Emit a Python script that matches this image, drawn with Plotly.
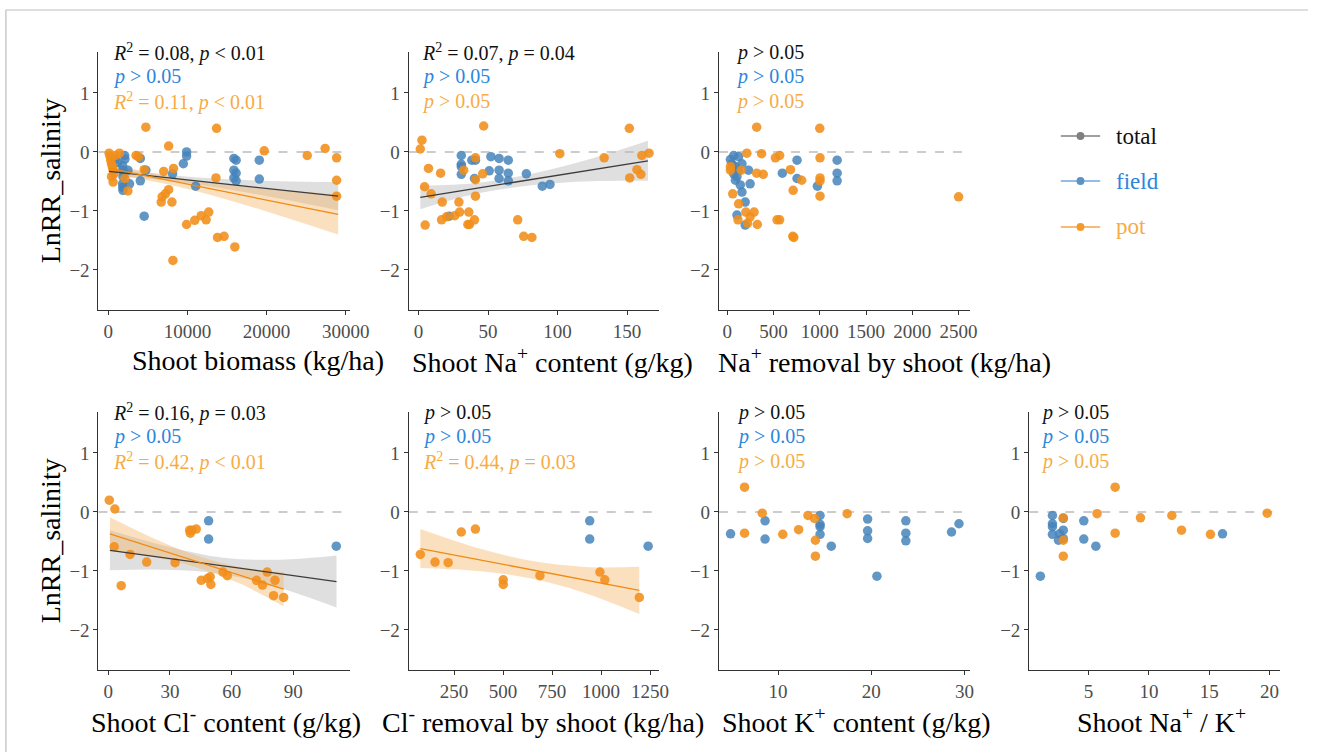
import numpy as np
import plotly.graph_objects as go

W, H = 1328, 752

# ---------------- data ----------------
# Panel 1: Shoot biomass (kg/ha)
p1_field_x = [820, 1200, 2060, 2100, 1800, 1850, 1850, 1800, 1830, 1850, 2470, 2680, 4040, 4040, 4530, 4740,
              8120, 9480, 9890, 9890, 11040, 15870, 16150, 15870, 16150, 15870, 16150, 19080, 19080]
p1_field_y = [-0.13, -0.18, -0.06, -0.12, -0.23, -0.31, -0.42, -0.54, -0.60, -0.65, -0.31, -0.54, -0.11, -0.49,
              -1.09, -0.31, -0.37, -0.20, 0.00, -0.07, -0.58, -0.11, -0.14, -0.31, -0.36, -0.44, -0.49, -0.14, -0.46]
p1_pot_x = [100, 200, 300, 400, 500, 600, 400, 600, 700, 900, 1400, 2470, 2100, 4740, 3500, 3800, 4530, 7000,
            7620, 8240, 6800, 6680, 7210, 7620, 8040, 8160, 9890, 10920, 11740, 12360, 12690, 13600, 13680,
            13800, 14630, 15990, 19700, 25140, 27400, 28850, 28850, 28850]
p1_pot_y = [-0.02, -0.07, -0.14, -0.20, -0.25, -0.31, -0.42, -0.51, -0.37, -0.06, -0.02, -0.66, -0.45, 0.42,
            -0.06, -0.08, -0.30, -0.33, 0.10, -0.28, -0.76, -0.85, -0.71, -0.64, -0.85, -1.84, -1.23, -1.16,
            -1.08, -1.15, -1.02, -0.44, 0.40, -1.45, -1.43, -1.61, 0.02, -0.06, 0.06, -0.10, -0.48, -0.75]

# Panel 2: Shoot Na+ content (g/kg)
p2_field_x = [30.7, 30.7, 30.7, 30.7, 38.3, 40.9, 40.2, 22.0, 52.0, 50.8, 57.9, 57.9, 57.9, 64.5, 64.5, 64.5,
              77.5, 89.0, 94.5]
p2_field_y = [-0.06, -0.21, -0.25, -0.38, -0.14, -0.14, -0.45, -1.09, -0.08, -0.32, -0.11, -0.31, -0.45, -0.14,
              -0.36, -0.49, -0.37, -0.58, -0.55]
p2_pot_x = [1.2, 2.4, 4.3, 4.7, 7.1, 9.0, 15.8, 17.0, 16.5, 20.1, 26.0, 29.0, 29.5, 32.4, 36.1, 35.4, 36.6,
            40.2, 40.9, 40.9, 40.9, 46.8, 46.1, 71.3, 75.6, 81.5, 101.6, 133.5, 151.6, 151.9, 157.1, 159.9,
            160.6, 165.8]
p2_pot_y = [0.05, 0.20, -0.59, -1.24, -0.28, -0.71, -0.36, -0.85, -1.15, -1.10, -1.08, -0.85, -1.02, -0.31,
            -1.02, -1.23, -1.23, -1.15, -0.10, -0.47, -0.75, 0.44, -0.37, -1.15, -1.43, -1.45, -0.03, -0.10,
            0.40, -0.44, -0.30, -0.38, -0.06, -0.02]

# Panel 3: Na+ removal by shoot (kg/ha)
p3_field_x = [35, 71, 124, 53, 89, 71, 106, 89, 160, 124, 142, 160, 195, 106, 195, 230, 248, 596, 755, 755,
              975, 1188, 1188, 1188]
p3_field_y = [-0.13, -0.06, -0.08, -0.20, -0.25, -0.37, -0.42, -0.48, -0.20, -0.31, -0.56, -0.68, -0.85,
              -1.07, -1.24, -0.31, -0.54, -0.36, -0.14, -0.45, -0.58, -0.14, -0.36, -0.49]
p3_pot_x = [35, 35, 60, 124, 117, 152, 213, 202, 248, 220, 291, 326, 319, 390, 319, 372, 521, 567, 539, 567,
            684, 713, 709, 720, 805, 1000, 1003, 1003, 1003, 1003, 2500]
p3_pot_y = [-0.25, -0.31, -0.71, -0.88, -1.15, -0.31, -0.02, -1.02, -1.10, -1.21, -1.02, -1.23, -0.36, -0.38,
            0.42, -0.03, -0.10, -0.06, -1.15, -1.15, -0.30, -0.65, -1.43, -1.45, -0.48, 0.40, -0.10, -0.44,
            -0.49, -0.75, -0.76]

# Panel 4: Shoot Cl- content (g/kg)
p4_field_x = [48.8, 48.8, 110.9]
p4_field_y = [-0.15, -0.46, -0.58]
p4_pot_x = [0.5, 3.2, 2.9, 6.3, 10.6, 18.7, 32.5, 39.6, 39.9, 40.7, 42.8, 45.2, 48.3, 49.6, 49.9, 55.8, 57.9,
            72.1, 75.0, 77.3, 81.1, 80.4, 85.3]
p4_pot_y = [0.20, 0.05, -0.59, -1.25, -0.72, -0.85, -0.86, -0.31, -0.36, -0.31, -0.29, -1.16, -1.13, -1.10,
            -1.23, -1.02, -1.08, -1.16, -1.24, -1.02, -1.16, -1.42, -1.45]

# Panel 5: Cl- removal by shoot (kg/ha)
p5_field_x = [942, 942, 1240]
p5_field_y = [-0.15, -0.46, -0.58]
p5_pot_x = [78, 153, 220, 287, 359, 501, 501, 688, 994, 1019, 1195]
p5_pot_y = [-0.72, -0.85, -0.86, -0.34, -0.29, -1.15, -1.23, -1.08, -1.02, -1.15, -1.45]

# Panel 6: Shoot K+ content (g/kg)
p6_field_x = [4.9, 8.6, 8.6, 14.5, 14.5, 14.5, 14.5, 15.7, 19.6, 19.6, 19.6, 20.6, 23.7, 23.7, 23.7, 28.6, 29.4]
p6_field_y = [-0.37, -0.15, -0.46, -0.06, -0.21, -0.25, -0.38, -0.58, -0.12, -0.32, -0.45, -1.09, -0.15,
              -0.36, -0.49, -0.34, -0.20]
p6_pot_x = [6.4, 6.4, 8.3, 10.5, 12.2, 13.2, 13.9, 14.0, 14.0, 17.4]
p6_pot_y = [0.42, -0.36, -0.02, -0.38, -0.30, -0.06, -0.11, -0.48, -0.75, -0.03]

# Panel 7: Shoot Na+/K+
p7_field_x = [1.0, 2.0, 2.0, 2.0, 2.0, 2.6, 2.5, 2.9, 2.9, 2.9, 4.6, 4.6, 5.6, 16.1]
p7_field_y = [-1.09, -0.06, -0.20, -0.25, -0.38, -0.37, -0.48, -0.11, -0.31, -0.45, -0.15, -0.46, -0.58, -0.37]
p7_pot_x = [2.9, 2.9, 2.9, 5.7, 7.2, 7.2, 9.3, 11.9, 12.7, 15.1, 19.8]
p7_pot_y = [-0.10, -0.48, -0.75, -0.03, 0.42, -0.36, -0.10, -0.06, -0.31, -0.38, -0.02]

# Regression lines and 95% confidence ribbons
fit_p1_total_x = [100, 7300, 14500, 21800, 29050]
fit_p1_total_y = [-0.33, -0.435, -0.54, -0.645, -0.75]
fit_p1_total_lo = [-0.40, -0.485, -0.62, -0.795, -0.99]
fit_p1_total_hi = [-0.26, -0.385, -0.46, -0.495, -0.51]

fit_p1_pot_x = [100, 7300, 14500, 21800, 29050]
fit_p1_pot_y = [-0.28, -0.475, -0.67, -0.865, -1.06]
fit_p1_pot_lo = [-0.37, -0.545, -0.79, -1.085, -1.40]
fit_p1_pot_hi = [-0.19, -0.405, -0.55, -0.645, -0.72]

fit_p2_total_x = [1.2, 42, 83, 124, 165]
fit_p2_total_y = [-0.77, -0.615, -0.46, -0.305, -0.15]
fit_p2_total_lo = [-0.97, -0.705, -0.56, -0.495, -0.49]
fit_p2_total_hi = [-0.57, -0.525, -0.36, -0.115, 0.19]

fit_p4_total_x = [0.8, 28.3, 55.9, 83.4, 111]
fit_p4_total_y = [-0.65, -0.7825, -0.915, -1.0475, -1.18]
fit_p4_total_lo = [-0.99, -0.98, -1.055, -1.29, -1.62]
fit_p4_total_hi = [-0.31, -0.58, -0.775, -0.81, -0.74]

fit_p4_pot_x = [0.8, 22, 43, 64, 85.3]
fit_p4_pot_y = [-0.37, -0.605, -0.84, -1.075, -1.31]
fit_p4_pot_lo = [-0.65, -0.765, -0.94, -1.215, -1.60]
fit_p4_pot_hi = [-0.09, -0.445, -0.74, -0.935, -1.02]

fit_p5_pot_x = [78, 357, 637, 916, 1195]
fit_p5_pot_y = [-0.62, -0.7975, -0.975, -1.1525, -1.33]
fit_p5_pot_lo = [-0.95, -0.9975, -1.125, -1.3725, -1.73]
fit_p5_pot_hi = [-0.29, -0.5975, -0.825, -0.9325, -0.93]

x_titles = ["Shoot biomass (kg/ha)", "Shoot Na<sup>+</sup> content (g/kg)", "Na<sup>+</sup> removal by shoot (kg/ha)",
            "Shoot Cl<sup>-</sup> content (g/kg)", "Cl<sup>-</sup> removal by shoot (kg/ha)",
            "Shoot K<sup>+</sup> content (g/kg)", "Shoot Na<sup>+</sup> / K<sup>+</sup>"]
stat_total = ["<i>R</i><sup>2</sup> = 0.08, <i>p</i> &lt; 0.01", "<i>R</i><sup>2</sup> = 0.07, <i>p</i> = 0.04",
              "<i>p</i> &gt; 0.05", "<i>R</i><sup>2</sup> = 0.16, <i>p</i> = 0.03", "<i>p</i> &gt; 0.05",
              "<i>p</i> &gt; 0.05", "<i>p</i> &gt; 0.05"]
stat_field = ["<i>p</i> &gt; 0.05"] * 7
stat_pot = ["<i>R</i><sup>2</sup> = 0.11, <i>p</i> &lt; 0.01", "<i>p</i> &gt; 0.05", "<i>p</i> &gt; 0.05",
            "<i>R</i><sup>2</sup> = 0.42, <i>p</i> &lt; 0.01", "<i>R</i><sup>2</sup> = 0.44, <i>p</i> = 0.03",
            "<i>p</i> &gt; 0.05", "<i>p</i> &gt; 0.05"]
x_tickvals = [[0, 10000, 20000, 30000], [0, 50, 100, 150], [0, 500, 1000, 1500, 2000, 2500],
              [0, 30, 60, 90], [250, 500, 750, 1000, 1250], [10, 20, 30], [5, 10, 15, 20]]
legend_labels = ["total", "field", "pot"]

panels = [
    (p1_field_x, p1_field_y, p1_pot_x, p1_pot_y),
    (p2_field_x, p2_field_y, p2_pot_x, p2_pot_y),
    (p3_field_x, p3_field_y, p3_pot_x, p3_pot_y),
    (p4_field_x, p4_field_y, p4_pot_x, p4_pot_y),
    (p5_field_x, p5_field_y, p5_pot_x, p5_pot_y),
    (p6_field_x, p6_field_y, p6_pot_x, p6_pot_y),
    (p7_field_x, p7_field_y, p7_pot_x, p7_pot_y),
]
fits = [
    (0, "total", fit_p1_total_x, fit_p1_total_y, fit_p1_total_lo, fit_p1_total_hi),
    (0, "pot", fit_p1_pot_x, fit_p1_pot_y, fit_p1_pot_lo, fit_p1_pot_hi),
    (1, "total", fit_p2_total_x, fit_p2_total_y, fit_p2_total_lo, fit_p2_total_hi),
    (3, "total", fit_p4_total_x, fit_p4_total_y, fit_p4_total_lo, fit_p4_total_hi),
    (3, "pot", fit_p4_pot_x, fit_p4_pot_y, fit_p4_pot_lo, fit_p4_pot_hi),
    (4, "pot", fit_p5_pot_x, fit_p5_pot_y, fit_p5_pot_lo, fit_p5_pot_hi),
]

# ---------------- layout geometry (pixels) ----------------
x_px = [(100, 355), (415, 669), (730, 985), (100, 355), (415, 669), (730, 985), (1045, 1300)]
row_px = [(51.7, 310), (51.7, 310), (51.7, 310), (411.7, 670), (411.7, 670), (411.7, 670), (411.7, 670)]
x_ranges = [[-1245, 30500], [-7.1, 172.9], [-88, 2625], [-4.75, 117.4], [19, 1295], [3.66, 30.6], [0.08, 20.9]]
y_range = [-2.68, 1.7]
title_cx = [262, 561, 898, 229, 551, 869, 1179]
stat_x = [113, 426, 745, 113, 427, 746, 1055]

FIELD_PT = "rgba(70,132,186,0.85)"
POT_PT = "rgba(241,142,26,0.88)"
TOTAL_LINE = "#3c3c3c"
POT_LINE = "#f08a10"
GRAY_RIB = "rgba(185,185,185,0.45)"
POT_RIB = "rgba(246,178,98,0.40)"
TXT_BLACK = "#111111"
TXT_BLUE = "#2b86dc"
TXT_ORANGE = "#f7ab45"
FONT = "Liberation Serif"


def px_x(p):
    return p / W


def px_y(p):
    return 1 - p / H


def ax_names(i):
    k = i + 1
    return ("x" if k == 1 else f"x{k}"), ("y" if k == 1 else f"y{k}")


fig = go.Figure()
layout_axes = {}
shapes = []
annotations = []

# ribbons first
for (i, grp, fx_, fy_, flo, fhi) in fits:
    xa, ya = ax_names(i)
    rib = GRAY_RIB if grp == "total" else POT_RIB
    fig.add_trace(go.Scatter(x=fx_, y=flo, mode="lines", line=dict(width=0, shape="spline", smoothing=1.0),
                             hoverinfo="skip", showlegend=False, xaxis=xa, yaxis=ya))
    fig.add_trace(go.Scatter(x=fx_, y=fhi, mode="lines", line=dict(width=0, shape="spline", smoothing=1.0),
                             fill="tonexty", fillcolor=rib,
                             hoverinfo="skip", showlegend=False, xaxis=xa, yaxis=ya))

for i, (fx, fy, px, py) in enumerate(panels):
    k = i + 1
    xa, ya = ax_names(i)
    xname = "xaxis" if k == 1 else f"xaxis{k}"
    yname = "yaxis" if k == 1 else f"yaxis{k}"
    x0, x1 = x_px[i]
    top, bot = row_px[i]
    axis_common = dict(showline=True, linecolor="#333333", linewidth=1.2, ticks="outside", ticklen=4,
                       tickcolor="#333333", tickwidth=1.1, showgrid=False, zeroline=False,
                       tickfont=dict(family=FONT, size=19, color="#4d4d4d"))
    layout_axes[xname] = dict(domain=[px_x(x0), px_x(x1)], anchor=ya, range=x_ranges[i],
                              tickvals=x_tickvals[i], tickformat="d", **axis_common)
    layout_axes[yname] = dict(domain=[px_y(bot), px_y(top)], anchor=xa, range=y_range,
                              tickvals=[-2, -1, 0, 1], **axis_common)

    shapes.append(dict(type="line", xref=f"{xa} domain", yref=ya, x0=0, x1=1, y0=0, y1=0,
                       line=dict(color="#9a9a9a", width=1.1, dash="dash"), layer="below"))

    fig.add_trace(go.Scatter(x=fx, y=fy, mode="markers", marker=dict(size=9.5, color=FIELD_PT, line=dict(width=0)),
                             showlegend=False, xaxis=xa, yaxis=ya))
    fig.add_trace(go.Scatter(x=px, y=py, mode="markers", marker=dict(size=9.5, color=POT_PT, line=dict(width=0)),
                             showlegend=False, xaxis=xa, yaxis=ya))

    ys = [52.7, 76.7, 101.7] if i < 3 else [412.7, 436.7, 461.7]
    for txt, col, yy in zip([stat_total[i], stat_field[i], stat_pot[i]], [TXT_BLACK, TXT_BLUE, TXT_ORANGE], ys):
        annotations.append(dict(text=txt, x=px_x(stat_x[i]), y=px_y(yy), xref="paper", yref="paper",
                                xanchor="left", yanchor="middle", showarrow=False,
                                font=dict(family=FONT, size=20, color=col)))

    ty = 360 if i < 3 else 720
    annotations.append(dict(text=x_titles[i], x=px_x(title_cx[i]), y=px_y(ty), xref="paper", yref="paper",
                            xanchor="center", yanchor="middle", showarrow=False,
                            font=dict(family=FONT, size=28, color="#000000")))

# regression lines on top
for (i, grp, fx_, fy_, flo, fhi) in fits:
    xa, ya = ax_names(i)
    lc = TOTAL_LINE if grp == "total" else POT_LINE
    fig.add_trace(go.Scatter(x=[fx_[0], fx_[-1]], y=[fy_[0], fy_[-1]], mode="lines",
                             line=dict(color=lc, width=1.3), hoverinfo="skip", showlegend=False,
                             xaxis=xa, yaxis=ya))

for cy in (181, 541):
    annotations.append(dict(text="LnRR_salinity", x=px_x(51), y=px_y(cy), xref="paper", yref="paper",
                            xanchor="center", yanchor="middle", textangle=-90, showarrow=False,
                            font=dict(family=FONT, size=28, color="#000000")))

leg_y = [136, 181, 227]
leg_line = ["#808080", "#6fa7d8", "#f5a54a"]
leg_dot = ["#808080", "#5b93c4", "#f39a2c"]
leg_txt = [TXT_BLACK, TXT_BLUE, TXT_ORANGE]
for lab, yy, lc, dc, tc in zip(legend_labels, leg_y, leg_line, leg_dot, leg_txt):
    shapes.append(dict(type="line", xref="paper", yref="paper", x0=px_x(1077), x1=px_x(1117),
                       y0=px_y(yy), y1=px_y(yy), line=dict(color=lc, width=1.5)))
    shapes.append(dict(type="circle", xref="paper", yref="paper", x0=px_x(1093), x1=px_x(1101),
                       y0=px_y(yy + 4), y1=px_y(yy - 4), fillcolor=dc, line=dict(width=0)))
    annotations.append(dict(text=lab, x=px_x(1131), y=px_y(yy), xref="paper", yref="paper",
                            xanchor="left", yanchor="middle", showarrow=False,
                            font=dict(family=FONT, size=23, color=tc)))

shapes.append(dict(type="line", xref="paper", yref="paper", x0=px_x(6), x1=1, y0=px_y(10), y1=px_y(10),
                   line=dict(color="#bdbdbd", width=1.2)))
shapes.append(dict(type="line", xref="paper", yref="paper", x0=px_x(6), x1=px_x(6), y0=px_y(10), y1=0,
                   line=dict(color="#bdbdbd", width=1.2)))

fig.update_layout(width=W, height=H, margin=dict(l=0, r=0, t=0, b=0), plot_bgcolor="white",
                  paper_bgcolor="white", showlegend=False, shapes=shapes, annotations=annotations,
                  **layout_axes)

post_js = ("document.documentElement.style.margin='0';document.documentElement.style.padding='0';"
           "document.documentElement.style.overflow='hidden';document.body.style.margin='0';"
           "document.body.style.padding='0';document.body.style.overflow='hidden';"
           "var g=document.getElementById('{plot_id}');if(g&&g.parentElement){"
           "g.parentElement.style.height='752px';g.parentElement.style.width='1328px';"
           "g.parentElement.style.overflow='hidden';g.parentElement.style.lineHeight='0';}")

fig.write_html("out.html", config={"displayModeBar": False}, post_script=post_js)
